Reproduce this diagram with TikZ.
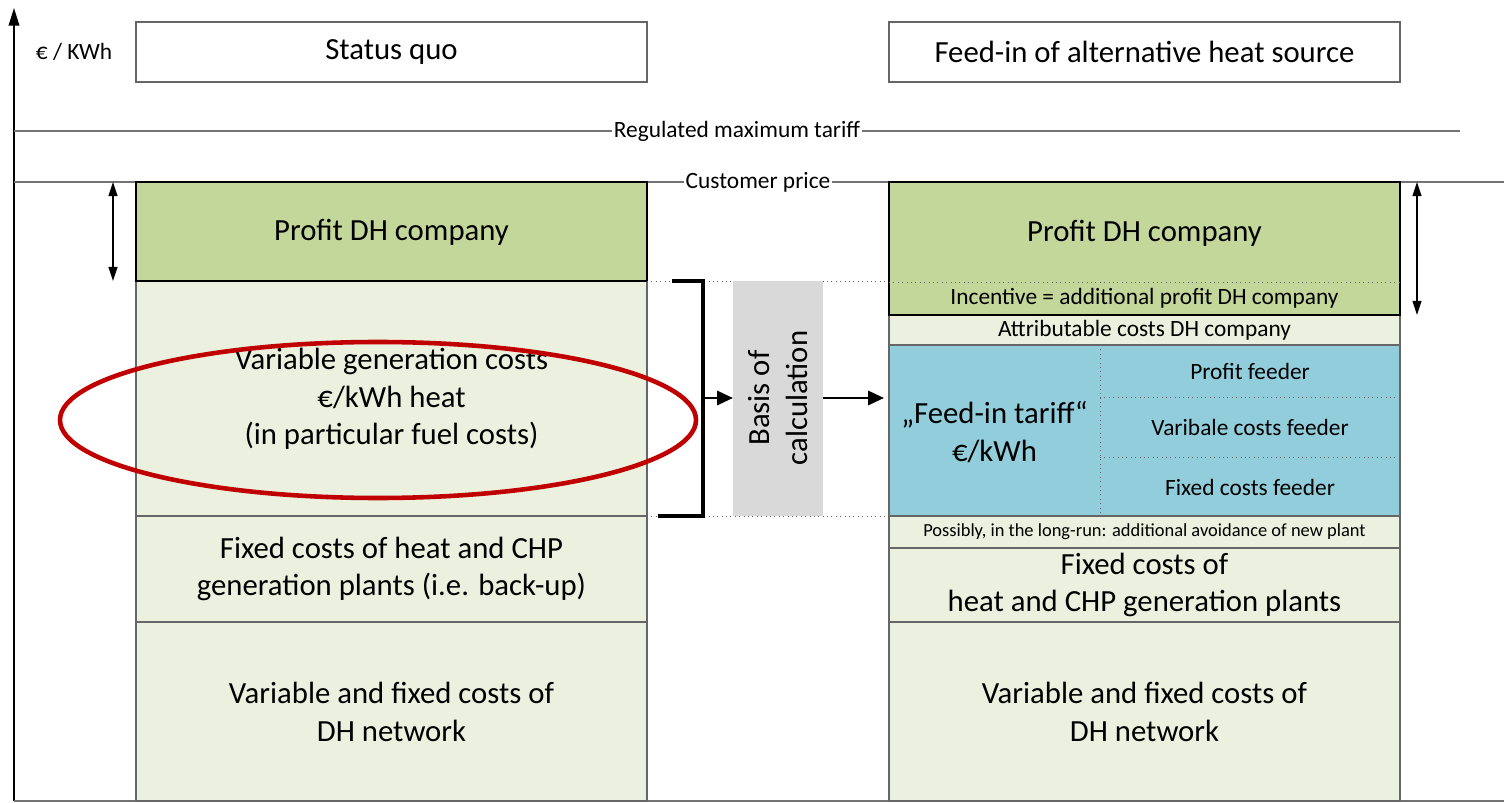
\documentclass[tikz,border=0pt]{standalone}
\usepackage{fontspec}
\setmainfont{Carlito}
\usetikzlibrary{arrows.meta}
\definecolor{profitgreen}{HTML}{C4D79B}
\definecolor{costgreen}{HTML}{EBF1DE}
\definecolor{feedblue}{HTML}{92CDDC}
\definecolor{basisgray}{HTML}{D9D9D9}
\definecolor{markred}{HTML}{C00000}

\begin{document}
\begin{tikzpicture}[x=0.02cm, y=-0.02cm, >={Triangle[length=8pt,width=5pt]},
    big/.style={font=\fontsize{17.5}{21.5}\selectfont, align=center},
    small/.style={font=\fontsize{13.3}{15}\selectfont, align=center},
    tiny/.style={font=\fontsize{10.5}{12}\selectfont},
    thinbox/.style={draw=black!60, line width=0.6pt},
    thickbox/.style={draw=black, line width=1.6pt},
    guide/.style={draw=black!55, line width=0.6pt},
    dotline/.style={draw=black!60, line width=0.5pt, dotted},
    flow/.style={line width=1.5pt, -{Triangle[length=9pt,width=8pt]}}]

    \useasboundingbox (0,0) rectangle (1504,803);

    % --- Axes ---
    \draw[line width=1pt, -{Triangle[length=10pt,width=6pt]}] (14,801) -- (14,8);
    \draw[guide] (14,801) -- (1504,801);
    \node[small] (unit) at (74,52) {€ / KWh};

    % --- Titles ---
    \draw[thinbox] (136,22) rectangle (647,82);
    \node[big] (titleL) at (391.5,52) {Status quo};
    \draw[thinbox] (889,22) rectangle (1400,82);
    \node[big] (titleR) at (1144.5,52) {Feed-in of alternative heat source};

    % --- Price levels ---
    \draw[guide] (14,131) -- (1460,131);
    \node[small, fill=white, inner sep=1pt] (maxtariff) at (737,131) {Regulated maximum tariff};
    \draw[guide] (14,182) -- (1504,182);
    \node[small, fill=white, inner sep=1pt] (custprice) at (758,182) {Customer price};

    % --- Status quo column ---
    \filldraw[thinbox, fill=costgreen] (136,281) rectangle (647,516);
    \filldraw[thinbox, fill=costgreen] (136,516) rectangle (647,622);
    \filldraw[thinbox, fill=costgreen] (136,622) rectangle (647,801);
    \filldraw[thickbox, fill=profitgreen] (136,182) rectangle (647,281);
    \node[big] (profitL) at (391.5,232) {Profit DH company};
    \node[big] (vargenL) at (391.5,399) {Variable generation costs\\€/kWh heat\\(in particular fuel costs)};
    \node[big] (fixgenL) at (391.5,569) {Fixed costs of heat and CHP\\generation plants (i.e. back-up)};
    \node[big] (networkL) at (391.5,712) {Variable and fixed costs of\\DH network};
    \draw[markred, line width=2.6pt] (378,420) ellipse [x radius=318, y radius=78];

    % profit span arrows
    \coordinate (spanLtop) at (113,182);
    \coordinate (spanLbot) at (113,281);
    \draw[line width=0.9pt, <->] (spanLtop) -- (spanLbot);
    \coordinate (spanRtop) at (1417,182);
    \coordinate (spanRbot) at (1417,315);
    \draw[line width=0.9pt, <->] (spanRtop) -- (spanRbot);

    % --- Basis of calculation ---
    \draw[dotline] (647,281) -- (889,281);
    \draw[dotline] (647,516) -- (889,516);
    \draw[line width=2pt] (672,281) -- (703,281) -- (703,516) -- (658,516);
    \fill[basisgray] (733,281) rectangle (823,516);
    \node[big, rotate=90] (basis) at (778,398) {Basis of\\calculation};
    \coordinate (brace) at (703,398);
    \coordinate (basisW) at (733,398);
    \coordinate (basisE) at (823,398);
    \coordinate (tariffW) at (884,398);
    \draw[flow] (brace) -- (basisW);
    \draw[flow] (basisE) -- (tariffW);

    % --- Feed-in column ---
    \filldraw[thinbox, fill=costgreen] (889,315) rectangle (1400,345);
    \filldraw[thinbox, fill=feedblue] (889,345) rectangle (1400,516);
    \filldraw[thinbox, fill=costgreen] (889,516) rectangle (1400,548);
    \filldraw[thinbox, fill=costgreen] (889,548) rectangle (1400,622);
    \filldraw[thinbox, fill=costgreen] (889,622) rectangle (1400,801);
    \filldraw[thickbox, fill=profitgreen] (889,182) rectangle (1400,315);
    \draw[dotline] (889,282) -- (1400,282);
    \draw[dotline] (1100,345) -- (1100,516);
    \draw[dotline] (1100,397) -- (1400,397);
    \draw[dotline] (1100,457) -- (1400,457);

    \node[big] (profitR) at (1144.5,233) {Profit DH company};
    \node[small] (incentive) at (1144.5,298.5) {Incentive = additional profit DH company};
    \node[small] (attrib) at (1144.5,330) {Attributable costs DH company};
    \node[big] (feedtariff) at (994.5,432) {„Feed-in tariff“\\€/kWh};
    \node[small] (profitfeed) at (1250,371) {Profit feeder};
    \node[small] (varfeed) at (1250,427) {Varibale costs feeder};
    \node[small] (fixfeed) at (1250,487) {Fixed costs feeder};
    \node[tiny] (newplant) at (1144.5,532) {Possibly, in the long-run: additional avoidance of new plant};
    \node[big] (fixgenR) at (1144.5,585) {Fixed costs of\\heat and CHP generation plants};
    \node[big] (networkR) at (1144.5,712) {Variable and fixed costs of\\DH network};

\end{tikzpicture}
\end{document}
